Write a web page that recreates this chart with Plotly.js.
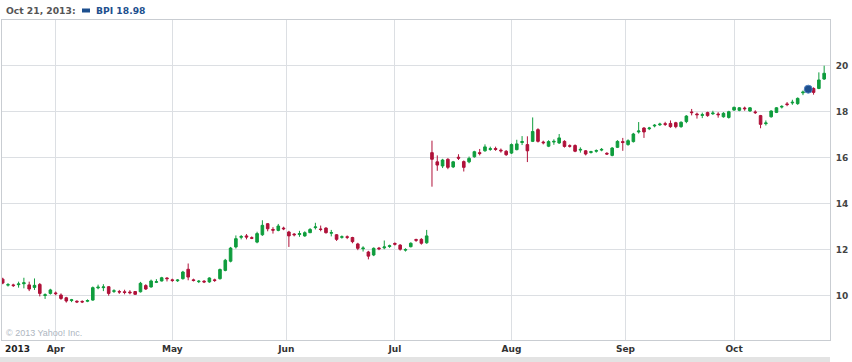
<!DOCTYPE html>
<html>
<head>
<meta charset="utf-8">
<script src="https://cdn.plot.ly/plotly-3.0.1.min.js"></script>
<style>html,body{margin:0;padding:0;background:#fff;}#chart{width:852px;height:362px;}</style>
</head>
<body>
<div id="chart"></div>
<script>
// ---- data ----
const dates = [
"2013-03-15","2013-03-18","2013-03-19","2013-03-20","2013-03-21","2013-03-22","2013-03-25","2013-03-26","2013-03-27","2013-03-28",
"2013-04-01","2013-04-02","2013-04-03","2013-04-04","2013-04-05","2013-04-08","2013-04-09","2013-04-10","2013-04-11","2013-04-12",
"2013-04-15","2013-04-16","2013-04-17","2013-04-18","2013-04-19","2013-04-22","2013-04-23","2013-04-24","2013-04-25","2013-04-26",
"2013-04-29","2013-04-30",
"2013-05-01","2013-05-02","2013-05-03","2013-05-06","2013-05-07","2013-05-08","2013-05-09","2013-05-10","2013-05-13","2013-05-14",
"2013-05-15","2013-05-16","2013-05-17","2013-05-20","2013-05-21","2013-05-22","2013-05-23","2013-05-24","2013-05-28","2013-05-29",
"2013-05-30","2013-05-31",
"2013-06-03","2013-06-04","2013-06-05","2013-06-06","2013-06-07","2013-06-10","2013-06-11","2013-06-12","2013-06-13","2013-06-14",
"2013-06-17","2013-06-18","2013-06-19","2013-06-20","2013-06-21","2013-06-24","2013-06-25","2013-06-26","2013-06-27","2013-06-28",
"2013-07-01","2013-07-02","2013-07-03","2013-07-05","2013-07-08","2013-07-09","2013-07-10","2013-07-11","2013-07-12","2013-07-15",
"2013-07-16","2013-07-17","2013-07-18","2013-07-19","2013-07-22","2013-07-23","2013-07-24","2013-07-25","2013-07-26","2013-07-29",
"2013-07-30","2013-07-31",
"2013-08-01","2013-08-02","2013-08-05","2013-08-06","2013-08-07","2013-08-08","2013-08-09","2013-08-12","2013-08-13","2013-08-14",
"2013-08-15","2013-08-16","2013-08-19","2013-08-20","2013-08-21","2013-08-22","2013-08-23","2013-08-26","2013-08-27","2013-08-28",
"2013-08-29","2013-08-30",
"2013-09-03","2013-09-04","2013-09-05","2013-09-06","2013-09-09","2013-09-10","2013-09-11","2013-09-12","2013-09-13","2013-09-16",
"2013-09-17","2013-09-18","2013-09-19","2013-09-20","2013-09-23","2013-09-24","2013-09-25","2013-09-26","2013-09-27","2013-09-30",
"2013-10-01","2013-10-02","2013-10-03","2013-10-04","2013-10-07","2013-10-08","2013-10-09","2013-10-10","2013-10-11","2013-10-14",
"2013-10-15","2013-10-16","2013-10-17","2013-10-18","2013-10-21","2013-10-22","2013-10-23","2013-10-24"
];
const openP = [
10.72,10.46,10.47,10.48,10.52,10.47,10.36,10.49,10.01,10.10,
10.12,10.03,9.91,9.79,9.76,9.75,9.76,9.81,10.34,10.35,
10.39,10.19,10.18,10.17,10.16,10.18,10.17,10.44,10.38,10.58,
10.64,10.77,
10.69,10.65,10.74,11.15,10.69,10.61,10.63,10.60,10.69,10.74,
11.10,11.50,12.12,12.54,12.60,12.52,12.33,12.65,13.13,12.88,
12.84,12.94,
12.77,12.68,12.66,12.60,12.74,12.96,12.90,12.94,12.72,12.65,
12.54,12.56,12.53,12.25,12.04,11.90,11.77,12.07,12.08,12.14,
12.27,12.20,11.98,12.13,12.44,12.45,12.30,16.22,15.82,15.64,
15.93,15.60,16.02,15.83,15.82,16.04,16.22,16.30,16.36,16.40,
16.33,16.28,
16.20,16.35,16.66,16.57,16.71,17.22,16.68,16.50,16.68,16.64,
16.71,16.52,16.53,16.33,16.30,16.23,16.28,16.33,16.19,16.10,
16.45,16.70,
16.57,16.70,17.12,17.29,17.26,17.38,17.43,17.48,17.49,17.52,
17.35,17.57,17.99,17.90,17.84,17.96,17.91,17.90,17.78,17.75,
18.07,18.06,18.16,18.03,17.99,17.83,17.48,17.78,17.97,18.20,
18.34,18.38,18.35,18.82,18.92,19.01,19.01,19.42
];
const highP = [
10.78,10.55,10.52,10.61,10.78,10.61,10.75,10.55,10.10,10.30,
10.18,10.10,9.95,9.86,9.80,9.80,9.84,10.40,10.48,10.50,
10.42,10.28,10.25,10.26,10.24,10.20,10.60,10.50,10.70,10.72,
10.82,10.80,
10.74,10.72,11.08,11.40,10.74,10.68,10.68,10.80,10.74,11.18,
11.60,12.12,12.62,12.64,12.68,12.58,12.78,13.28,13.16,12.98,
13.12,13.00,
12.82,12.72,12.82,12.80,12.94,13.17,13.05,12.98,12.86,12.68,
12.62,12.62,12.56,12.30,12.15,11.95,12.10,12.12,12.40,12.22,
12.32,12.24,12.06,12.32,12.48,12.50,12.86,16.74,16.10,15.95,
15.98,15.86,16.15,15.88,16.05,16.30,16.38,16.58,16.48,16.48,
16.40,16.33,
16.62,16.78,16.94,16.93,17.75,17.28,16.74,16.76,16.80,17.03,
16.76,16.58,16.58,16.45,16.33,16.30,16.36,16.42,16.24,16.46,
16.76,16.86,
16.80,17.08,17.55,17.33,17.34,17.46,17.52,17.56,17.62,17.56,
17.58,17.85,18.12,17.96,17.96,18.00,18.04,17.98,17.98,18.04,
18.22,18.20,18.22,18.20,18.06,17.86,17.62,18.06,18.20,18.28,
18.42,18.52,18.62,18.92,19.04,19.06,19.71,20.00
];
const lowP = [
10.50,10.40,10.38,10.35,10.32,10.20,10.25,9.97,9.86,10.05,
10.02,9.82,9.70,9.72,9.68,9.68,9.72,9.78,10.28,10.20,
10.00,10.12,10.08,10.06,10.06,10.04,10.14,10.25,10.35,10.55,
10.62,10.62,
10.60,10.60,10.70,10.67,10.62,10.55,10.55,10.56,10.60,10.70,
11.06,11.45,12.05,12.45,12.45,12.46,12.28,12.60,12.80,12.70,
12.80,12.85,
12.12,12.58,12.56,12.56,12.72,12.88,12.80,12.70,12.58,12.38,
12.48,12.46,12.28,11.98,11.92,11.58,11.72,11.98,12.02,12.08,
12.18,11.96,11.92,12.10,12.34,12.22,12.26,14.74,15.43,15.55,
15.50,15.55,15.90,15.40,15.76,16.00,16.10,16.26,16.30,16.30,
16.22,16.08,
16.16,16.32,16.55,15.81,16.68,16.66,16.58,16.46,16.56,16.60,
16.44,16.44,16.24,16.22,16.10,16.18,16.22,16.28,16.12,16.06,
16.42,16.30,
16.52,16.66,17.05,16.86,17.20,17.32,17.38,17.38,17.30,17.28,
17.30,17.50,17.84,17.70,17.72,17.78,17.86,17.74,17.74,17.70,
18.04,18.02,18.04,18.00,17.90,17.28,17.40,17.74,17.94,18.14,
18.24,18.30,18.30,18.72,18.86,18.74,18.98,19.38
];
const closeP = [
10.55,10.48,10.44,10.51,10.56,10.29,10.45,10.10,10.04,10.25,
10.09,9.88,9.77,9.82,9.73,9.73,9.79,10.35,10.37,10.38,
10.10,10.21,10.16,10.14,10.13,10.06,10.54,10.29,10.64,10.61,
10.78,10.74,
10.66,10.68,11.03,10.81,10.66,10.63,10.60,10.77,10.66,11.14,
11.54,12.07,12.48,12.57,12.55,12.50,12.70,13.06,12.91,12.85,
13.03,12.91,
12.60,12.65,12.70,12.74,12.88,12.99,12.88,12.74,12.74,12.45,
12.56,12.54,12.35,12.06,12.07,11.72,12.06,12.04,12.12,12.17,
12.24,12.02,12.01,12.28,12.41,12.28,12.60,15.93,15.68,15.90,
15.58,15.82,15.98,15.58,15.97,16.26,16.18,16.47,16.39,16.36,
16.30,16.13,
16.57,16.60,16.70,16.30,17.14,16.71,16.65,16.70,16.71,16.86,
16.49,16.50,16.28,16.36,16.16,16.26,16.31,16.36,16.16,16.42,
16.71,16.66,
16.74,17.03,17.16,17.12,17.29,17.41,17.46,17.45,17.35,17.35,
17.54,17.81,17.96,17.87,17.87,17.83,17.94,17.87,17.93,18.00,
18.19,18.17,18.13,18.17,17.96,17.45,17.51,18.03,18.17,18.23,
18.31,18.41,18.58,18.85,18.98,18.84,19.38,19.67
];
const monthStarts = ["2013-04-01","2013-05-01","2013-06-01","2013-07-01","2013-08-01","2013-09-01","2013-10-01"];
const monthLabels = ["Apr","May","Jun","Jul","Aug","Sep","Oct"];
const yTicks = [10,12,14,16,18,20];
const ticker = "BPI";
const hoverDate = "2013-10-21";
const hoverLabel = "Oct 21, 2013:";
const yearLabel = "2013";
const copyright = "\u00a9 2013 Yahoo! Inc.";

// ---- build ----
const xIdx = dates.map((d, i) => i);
const tickvals = monthStarts.map(ms => {
  const k = dates.findIndex(d => d >= ms);
  return dates[k] === ms ? k : k - 0.5;
});
const hi = dates.indexOf(hoverDate);

const G = "#0f9d3d", R = "#b0123a";
const traces = [
  {
    type: "candlestick",
    x: xIdx, open: openP, high: highP, low: lowP, close: closeP,
    increasing: {line: {color: G, width: 1}, fillcolor: G},
    decreasing: {line: {color: R, width: 1}, fillcolor: R},
    whiskerwidth: 0,
    hoverinfo: "skip",
    showlegend: false
  },
  {
    type: "scatter", mode: "markers",
    x: [xIdx[hi]], y: [closeP[hi]],
    marker: {size: 8, color: "#1d4f8e", line: {color: "#4f7fbf", width: 1}},
    hoverinfo: "skip", showlegend: false
  }
];

// plot area: x 2..830, y 20..340
const px = p => (p - 2) / 828;
const py = p => (340 - p) / 320;

const bold = {family: "DejaVu Sans, Verdana, sans-serif", size: 9, color: "#333", weight: "bold"};

const layout = {
  width: 852, height: 362,
  margin: {l: 2, r: 22, t: 20, b: 22, pad: 0},
  paper_bgcolor: "#ffffff", plot_bgcolor: "#ffffff",
  showlegend: false,
  xaxis: {
    type: "linear",
    range: [-0.13, 156.1],
    tickmode: "array", tickvals: tickvals, ticktext: monthLabels,
    showgrid: true, gridcolor: "#dcdfe3", gridwidth: 1,
    zeroline: false, showline: true, mirror: true, linecolor: "#c9cdd2", linewidth: 1,
    ticks: "", tickfont: bold,
    rangeslider: {visible: false}, fixedrange: true
  },
  yaxis: {
    side: "right",
    range: [8.074, 21.987],
    tickmode: "array", tickvals: yTicks, ticktext: yTicks.map(String),
    showgrid: true, gridcolor: "#dcdfe3", gridwidth: 1,
    zeroline: false, showline: true, mirror: true, linecolor: "#c9cdd2", linewidth: 1,
    ticks: "", ticklabelstandoff: 3,
    tickfont: {family: "DejaVu Sans, Verdana, sans-serif", size: 9, color: "#444", weight: "bold"},
    fixedrange: true
  },
  shapes: [
    {type: "rect", xref: "paper", yref: "paper", x0: px(82), x1: px(90), y0: py(12.5), y1: py(8.5),
     fillcolor: "#1d4f8e", line: {width: 0}},
    {type: "rect", xref: "paper", yref: "paper", x0: px(0), x1: px(830), y0: py(362), y1: py(357),
     fillcolor: "#e3e3e3", line: {width: 0}}
  ],
  annotations: [
    {xref: "paper", yref: "paper", x: px(4), y: py(10), xanchor: "left", yanchor: "middle", showarrow: false,
     text: hoverLabel, font: {family: "DejaVu Sans, Verdana, sans-serif", size: 9.2, color: "#555", weight: "bold"}},
    {xref: "paper", yref: "paper", x: px(94), y: py(10), xanchor: "left", yanchor: "middle", showarrow: false,
     text: ticker + " " + closeP[hi].toFixed(2), font: {family: "DejaVu Sans, Verdana, sans-serif", size: 9.2, color: "#1d4f8e", weight: "bold"}},
    {xref: "paper", yref: "paper", x: px(3), y: py(349), xanchor: "left", yanchor: "middle", showarrow: false,
     text: yearLabel, font: {family: "DejaVu Sans, Verdana, sans-serif", size: 9, color: "#222", weight: "bold"}},
    {xref: "paper", yref: "paper", x: px(4), y: py(333), xanchor: "left", yanchor: "middle", showarrow: false,
     text: copyright, font: {family: "Liberation Sans, Arial, sans-serif", size: 9, color: "#aeb6bf"}}
  ]
};

Plotly.newPlot("chart", traces, layout, {staticPlot: true, displayModeBar: false});
</script>
</body>
</html>
